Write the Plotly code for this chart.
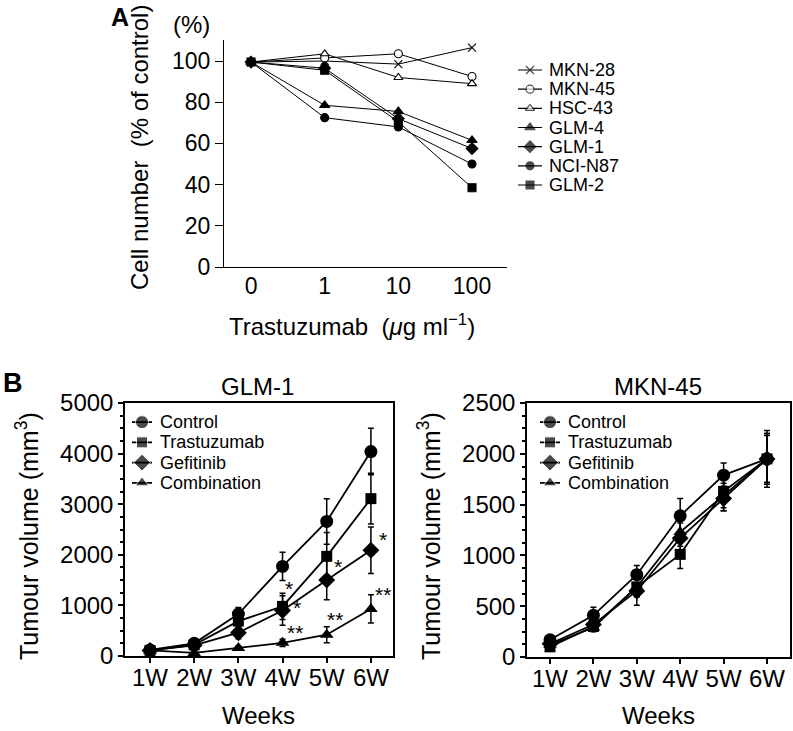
import plotly.graph_objects as go

W, H = 793, 731
FONT = "Liberation Sans, Arial, Helvetica, sans-serif"

# ---------------- Panel A data ----------------
conc_labels = ["0", "1", "10", "100"]
cell_lines = ["MKN-28", "MKN-45", "HSC-43", "GLM-4", "GLM-1", "NCI-N87", "GLM-2"]
mkn28 = [99.5, 100.0, 98.5, 106.5]
mkn45 = [99.5, 101.5, 103.5, 92.5]
hsc43 = [99.5, 103.5, 92.0, 89.0]
glm4 = [99.5, 78.5, 75.5, 61.5]
glm1 = [99.5, 96.5, 72.0, 57.5]
ncin87 = [99.5, 72.5, 68.0, 50.0]
glm2 = [99.5, 95.5, 70.5, 38.5]
a_ticks = [0, 20, 40, 60, 80, 100]

# ---------------- Panel B data ----------------
weeks = ["1W", "2W", "3W", "4W", "5W", "6W"]
treatments = ["Control", "Trastuzumab", "Gefitinib", "Combination"]

glm1_control = [120, 250, 830, 1770, 2660, 4040]
glm1_control_err = [40, 60, 130, 280, 450, 460]
glm1_trast = [110, 220, 690, 980, 1970, 3110]
glm1_trast_err = [30, 50, 150, 260, 470, 500]
glm1_gef = [110, 210, 460, 900, 1500, 2090]
glm1_gef_err = [30, 40, 120, 290, 390, 460]
glm1_comb = [110, 60, 160, 260, 420, 930]
glm1_comb_err = [30, 30, 40, 70, 160, 280]

mkn45_control = [170, 410, 810, 1390, 1790, 1950]
mkn45_control_err = [40, 80, 90, 170, 120, 280]
mkn45_trast = [100, 300, 690, 1010, 1630, 1950]
mkn45_trast_err = [30, 50, 90, 140, 190, 250]
mkn45_gef = [130, 320, 650, 1170, 1560, 1950]
mkn45_gef_err = [30, 50, 140, 150, 120, 230]
mkn45_comb = [120, 290, 690, 1230, 1590, 1950]
mkn45_comb_err = [30, 40, 100, 140, 120, 250]

# significance marks (week index offset, value, text)
glm1_sig_x = [3.14, 3.32, 3.28, 4.26, 4.19, 5.27, 5.27]
glm1_sig_y = [1420, 1030, 540, 1840, 810, 2390, 1290]
glm1_sig_text = ["*", "*", "**", "*", "**", "*", "**"]


def xp(px):
    return px / W


def yp(py):
    return 1 - py / H


fig = go.Figure()

# ---- Panel A traces ----
a_series = [mkn28, mkn45, hsc43, glm4, glm1, ncin87, glm2]
a_sym = ["x-thin", "circle", "triangle-up", "triangle-up", "diamond", "circle", "square"]
a_fill = ["black", "white", "white", "black", "black", "black", "black"]
a_size = [8, 8, 8, 9, 9, 8, 8]
for name, vals, sym, fill, sz in zip(cell_lines, a_series, a_sym, a_fill, a_size):
    fig.add_trace(go.Scatter(
        x=list(range(len(conc_labels))), y=vals, mode="lines+markers", name=name,
        line=dict(color="black", width=1),
        marker=dict(symbol=sym, size=sz, color=fill, line=dict(color="black", width=1.1)),
        xaxis="x", yaxis="y", showlegend=False))

# Legend A (manual, on hidden axes)
for i, (name, sym, fill, sz) in enumerate(zip(cell_lines, a_sym, a_fill, a_size)):
    fig.add_trace(go.Scatter(
        x=[0, 0.5, 1], y=[i, i, i], mode="lines+markers",
        line=dict(color="black", width=1.2),
        marker=dict(symbol=sym, size=[0, sz, 0], color=fill, line=dict(color="black", width=1.1)),
        xaxis="x4", yaxis="y4", showlegend=False, hoverinfo="skip"))
    fig.add_annotation(x=1, y=i, xref="x4", yref="y4", text=name, showarrow=False,
                       xanchor="left", yanchor="middle", xshift=5,
                       font=dict(size=18, color="black", family=FONT))

# ---- Panel B traces ----
b_sym = ["circle", "square", "diamond", "triangle-up"]
b_size = [13, 11, 13, 12]
glm1_sets = [(glm1_control, glm1_control_err), (glm1_trast, glm1_trast_err),
             (glm1_gef, glm1_gef_err), (glm1_comb, glm1_comb_err)]
mkn45_sets = [(mkn45_control, mkn45_control_err), (mkn45_trast, mkn45_trast_err),
              (mkn45_gef, mkn45_gef_err), (mkn45_comb, mkn45_comb_err)]

for sets, xa, ya in [(glm1_sets, "x2", "y2"), (mkn45_sets, "x3", "y3")]:
    for name, (vals, errs), sym, sz in zip(treatments, sets, b_sym, b_size):
        fig.add_trace(go.Scatter(
            x=list(range(len(weeks))), y=vals, mode="lines+markers", name=name,
            line=dict(color="black", width=1.8),
            marker=dict(symbol=sym, size=sz, color="black"),
            error_y=dict(type="data", array=errs, visible=True, color="black",
                         thickness=1.5, width=3),
            xaxis=xa, yaxis=ya, showlegend=False))

# Legends B (manual)
for xa, ya in [("x5", "y5"), ("x6", "y6")]:
    for i, (name, sym, sz) in enumerate(zip(treatments, b_sym, b_size)):
        fig.add_trace(go.Scatter(
            x=[0, 0.5, 1], y=[i, i, i], mode="lines+markers",
            line=dict(color="black", width=1.8),
            marker=dict(symbol=sym, size=[0, sz, 0], color="black"),
            xaxis=xa, yaxis=ya, showlegend=False, hoverinfo="skip"))
        fig.add_annotation(x=1, y=i, xref=xa, yref=ya, text=name, showarrow=False,
                           xanchor="left", yanchor="middle", xshift=6,
                           font=dict(size=18, color="black", family=FONT))

# significance stars
for sx, sy, st in zip(glm1_sig_x, glm1_sig_y, glm1_sig_text):
    fig.add_annotation(x=sx, y=sy, xref="x2", yref="y2", text=st, showarrow=False,
                       xanchor="center", yanchor="middle", yshift=-4,
                       font=dict(size=21, color="black", family=FONT))

# ---- Axes ----
tickfont_a = dict(size=23, color="black", family=FONT)
tickfont_b = dict(size=24, color="black", family=FONT)

hidden = dict(visible=False, showgrid=False, zeroline=False, fixedrange=True, automargin=False)

fig.update_layout(
    width=W, height=H, autosize=False,
    margin=dict(l=0, r=0, t=0, b=0, autoexpand=False),
    paper_bgcolor="white", plot_bgcolor="rgba(0,0,0,0)",
    font=dict(family=FONT, color="black"),
    showlegend=False,
    xaxis=dict(domain=[xp(224), xp(507)], range=[-0.367, 3.475], automargin=False,
               tickvals=list(range(len(conc_labels))), ticktext=conc_labels,
               showline=True, linecolor="black", linewidth=1.2, showgrid=False, zeroline=False,
               ticks="", ticklabelstandoff=-2, tickfont=tickfont_a, anchor="y"),
    yaxis=dict(domain=[yp(267), yp(40)], range=[0, 110.2], tickvals=a_ticks, automargin=False,
               showline=True, linecolor="black", linewidth=1.2, showgrid=False, zeroline=False,
               ticks="outside", ticklen=8, tickwidth=1.2, tickcolor="black",
               tickfont=tickfont_a, anchor="x"),
    xaxis2=dict(domain=[xp(125), xp(393)], range=[-0.566, 5.5], automargin=False,
                tickvals=list(range(len(weeks))), ticktext=weeks,
                showline=True, mirror=True, linecolor="black", linewidth=1.5,
                showgrid=False, zeroline=False, ticks="outside", ticklen=5, tickwidth=1.5,
                tickcolor="black", ticklabelstandoff=-6, tickfont=tickfont_b, anchor="y2"),
    yaxis2=dict(domain=[yp(656), yp(403)], range=[0, 5000], dtick=1000, automargin=False,
                showline=True, mirror=True, linecolor="black", linewidth=1.5,
                showgrid=False, zeroline=False, ticks="outside", ticklen=5, tickwidth=1.5,
                tickcolor="black", minor=dict(dtick=250, ticks="outside", ticklen=3,
                                              tickcolor="black", showgrid=False),
                tickfont=tickfont_b, anchor="x2"),
    xaxis3=dict(domain=[xp(527), xp(790)], range=[-0.53, 5.53], automargin=False,
                tickvals=list(range(len(weeks))), ticktext=weeks,
                showline=True, mirror=True, linecolor="black", linewidth=1.5,
                showgrid=False, zeroline=False, ticks="outside", ticklen=5, tickwidth=1.5,
                tickcolor="black", ticklabelstandoff=-6, tickfont=tickfont_b, anchor="y3"),
    yaxis3=dict(domain=[yp(657), yp(403)], range=[0, 2500], dtick=500, automargin=False,
                showline=True, mirror=True, linecolor="black", linewidth=1.5,
                showgrid=False, zeroline=False, ticks="outside", ticklen=5, tickwidth=1.5,
                tickcolor="black", minor=dict(dtick=125, ticks="outside", ticklen=3,
                                              tickcolor="black", showgrid=False),
                tickfont=tickfont_b, anchor="x3"),
    # legend axes
    xaxis4=dict(domain=[xp(518), xp(542)], range=[0, 1], anchor="y4", **hidden),
    yaxis4=dict(domain=[yp(194.6), yp(60.4)], range=[6.5, -0.5], anchor="x4", **hidden),
    xaxis5=dict(domain=[xp(132), xp(152)], range=[0, 1], anchor="y5", **hidden),
    yaxis5=dict(domain=[yp(493), yp(412)], range=[3.5, -0.5], anchor="x5", **hidden),
    xaxis6=dict(domain=[xp(540), xp(560)], range=[0, 1], anchor="y6", **hidden),
    yaxis6=dict(domain=[yp(493), yp(412)], range=[3.5, -0.5], anchor="x6", **hidden),
)

# ---- Text annotations (labels, titles) ----
def ptext(text, x, y, size, angle=0):
    fig.add_annotation(x=xp(x), y=yp(y), xref="paper", yref="paper", text=text,
                       showarrow=False, xanchor="center", yanchor="middle", textangle=angle,
                       font=dict(size=size, color="black", family=FONT))

ptext("<b>A</b>", 120, 17, 25)
ptext("(%)", 191, 24, 24)
ptext("Cell number  (% of control)", 140, 148, 24, angle=-90)
ptext("Trastuzumab  (<i>μ</i>g ml<sup>−1</sup>)", 352, 325, 24)

ptext("<b>B</b>", 13, 383, 27)
ptext("GLM-1", 257, 386, 24)
ptext("MKN-45", 658, 386, 24)
ptext("Tumour volume (mm<sup>3</sup>)", 27, 536, 25, angle=-90)
ptext("Tumour volume (mm<sup>3</sup>)", 429, 536, 25, angle=-90)
ptext("Weeks", 258, 715, 24)
ptext("Weeks", 658, 715, 24)

fig.write_html(
    "out.html",
    config={"displayModeBar": False},
    post_script="document.body.style.margin='0';document.body.style.padding='0';"
                "document.body.style.overflow='hidden';",
)
